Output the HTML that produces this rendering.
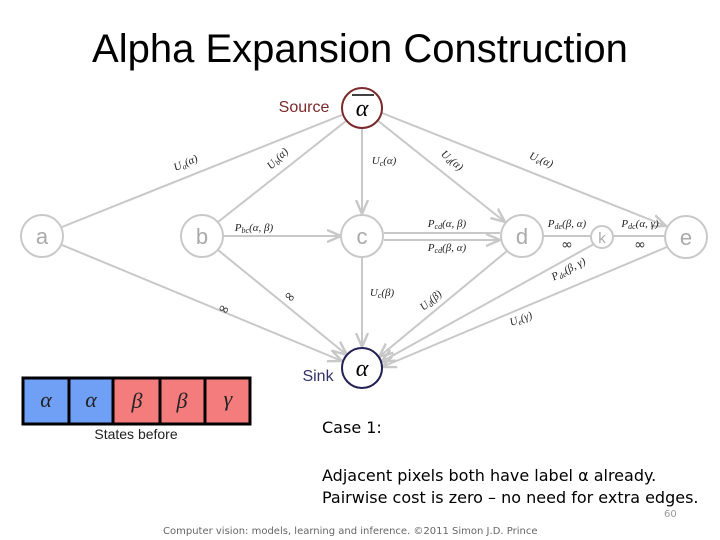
<!DOCTYPE html>
<html><head><meta charset="utf-8"><style>
body{margin:0;background:#fff;width:720px;height:540px;overflow:hidden;position:relative;font-family:"Liberation Sans",sans-serif}
.t{position:absolute;left:0;width:720px;text-align:center;top:27px;font-size:40px;color:#000}
.s{position:absolute;font-family:"DejaVu Sans","Liberation Sans",sans-serif;color:#000}
</style></head><body>
<div class="t">Alpha Expansion Construction</div>
<svg width="720" height="540" style="position:absolute;left:0;top:0">
<defs><marker id="ar" markerWidth="8" markerHeight="8" refX="7" refY="4" orient="auto"><path d="M0,1 L7,4 L0,7" fill="none" stroke="#c8c8c8" stroke-width="1.2"/></marker></defs>
<g stroke="#c8c8c8" stroke-width="2" fill="none">
<line x1="342" y1="115" x2="62" y2="227"/>
<line x1="346" y1="121" x2="218" y2="222"/>
<line x1="362" y1="128" x2="362" y2="214" marker-end="url(#ar)"/>
<line x1="377" y1="120" x2="505" y2="222" marker-end="url(#ar)"/>
<line x1="382" y1="113" x2="666" y2="226" marker-end="url(#ar)"/>
<line x1="223" y1="236" x2="341" y2="236" marker-end="url(#ar)"/>
<line x1="384" y1="233" x2="500" y2="233"/>
<line x1="384" y1="240" x2="500" y2="240" marker-end="url(#ar)"/>
<line x1="543" y1="236" x2="591" y2="236"/>
<line x1="613" y1="236" x2="664" y2="236"/>
<line x1="62" y1="245" x2="342" y2="361" marker-end="url(#ar)"/>
<line x1="218" y1="250" x2="347" y2="355" marker-end="url(#ar)"/>
<line x1="362" y1="258" x2="362" y2="347" marker-end="url(#ar)"/>
<line x1="507" y1="251" x2="379" y2="357" marker-end="url(#ar)"/>
<line x1="594" y1="244" x2="381" y2="362" marker-end="url(#ar)"/>
<line x1="667" y1="247" x2="382" y2="367" marker-end="url(#ar)"/>
</g>
<g fill="#fff" stroke="#c8c8c8" stroke-width="2">
<circle cx="42" cy="236" r="21"/><circle cx="202" cy="236" r="21"/><circle cx="362" cy="236" r="21"/><circle cx="522" cy="236" r="21"/><circle cx="602" cy="237" r="11"/><circle cx="686" cy="237" r="21"/>
</g>
<circle cx="362" cy="108" r="20" fill="#fff" stroke="#7a2a2a" stroke-width="2"/>
<circle cx="362" cy="368" r="20" fill="#fff" stroke="#222255" stroke-width="2"/>
<g font-family="Liberation Sans" fill="#aaa" text-anchor="middle" font-size="22">
<text x="42" y="244">a</text><text x="202" y="244">b</text><text x="362" y="244">c</text><text x="522" y="244">d</text><text x="686" y="245">e</text><text x="602" y="243" font-size="15">k</text>
</g>
<text x="304" y="112" font-size="16" fill="#7a2a2a" text-anchor="middle">Source</text>
<text x="318" y="381" font-size="16" fill="#333366" text-anchor="middle">Sink</text>
<g font-family="Liberation Serif" font-style="italic" text-anchor="middle" font-size="24">
<text x="362" y="116">α</text><line x1="352" y1="95" x2="374" y2="95" stroke="#000" stroke-width="1.5"/>
<text x="362" y="376">α</text>
</g>
<g font-family="Liberation Serif" font-style="italic" font-size="11" fill="#222" text-anchor="middle">
<text transform="translate(187,166) rotate(-24)">U<tspan font-size="8" dy="2">a</tspan><tspan dy="-2">(α)</tspan></text>
<text transform="translate(280,161) rotate(-45)">U<tspan font-size="8" dy="2">b</tspan><tspan dy="-2">(α)</tspan></text>
<text x="384" y="164">U<tspan font-size="8" dy="2">c</tspan><tspan dy="-2">(α)</tspan></text>
<text transform="translate(450,163) rotate(40)">U<tspan font-size="8" dy="2">d</tspan><tspan dy="-2">(α)</tspan></text>
<text transform="translate(540,163) rotate(22)">U<tspan font-size="8" dy="2">e</tspan><tspan dy="-2">(α)</tspan></text>
<text x="254" y="231">P<tspan font-size="8" dy="2">bc</tspan><tspan dy="-2">(α, β)</tspan></text>
<text x="447" y="227">P<tspan font-size="8" dy="2">cd</tspan><tspan dy="-2">(α, β)</tspan></text>
<text x="447" y="251">P<tspan font-size="8" dy="2">cd</tspan><tspan dy="-2">(β, α)</tspan></text>
<text x="567" y="227">P<tspan font-size="8" dy="2">de</tspan><tspan dy="-2">(β, α)</tspan></text>
<text x="640" y="227">P<tspan font-size="8" dy="2">dc</tspan><tspan dy="-2">(α, γ)</tspan></text>
<text transform="translate(570,272) rotate(-28)">P<tspan font-size="8" dy="2">de</tspan><tspan dy="-2">(β, γ)</tspan></text>
<text x="382" y="296">U<tspan font-size="8" dy="2">c</tspan><tspan dy="-2">(β)</tspan></text>
<text transform="translate(433,303) rotate(-40)">U<tspan font-size="8" dy="2">d</tspan><tspan dy="-2">(β)</tspan></text>
<text transform="translate(522,322) rotate(-20)">U<tspan font-size="8" dy="2">e</tspan><tspan dy="-2">(γ)</tspan></text>
</g>
<g font-size="14" fill="#333" text-anchor="middle" font-family="DejaVu Sans">
<text x="567" y="249">∞</text><text x="640" y="249">∞</text>
<text transform="translate(222,313) rotate(25)">∞</text><text transform="translate(287,300) rotate(40)">∞</text>
</g>
<g stroke="#000" stroke-width="3">
<rect x="23" y="378" width="46" height="46" fill="#6fa0f5"/>
<rect x="69" y="378" width="44" height="46" fill="#6fa0f5"/>
<rect x="113" y="378" width="47" height="46" fill="#f47c7c"/>
<rect x="160" y="378" width="45" height="46" fill="#f47c7c"/>
<rect x="205" y="378" width="45" height="46" fill="#f47c7c"/>
</g>
<g font-family="Liberation Serif" font-style="italic" font-size="22" text-anchor="middle" fill="#222">
<text x="46" y="407">α</text><text x="91" y="407">α</text><text x="137" y="408">β</text><text x="182" y="408">β</text><text x="228" y="406">γ</text>
</g>
<text x="136" y="439" font-size="14" fill="#222" text-anchor="middle">States before</text>
</svg>
<div class="s" style="left:322px;top:418px;font-size:16px">Case 1:</div>
<div class="s" style="left:322px;top:465px;font-size:16px;line-height:22px">Adjacent pixels both have label α already.<br>Pairwise cost is zero – no need for extra edges.</div>
<div class="s" style="left:664px;top:509px;font-size:10px;color:#999">60</div>
<div class="s" style="left:163px;top:526px;font-size:10px;color:#666">Computer vision: models, learning and inference.  ©2011 Simon J.D. Prince</div>
</body></html>
